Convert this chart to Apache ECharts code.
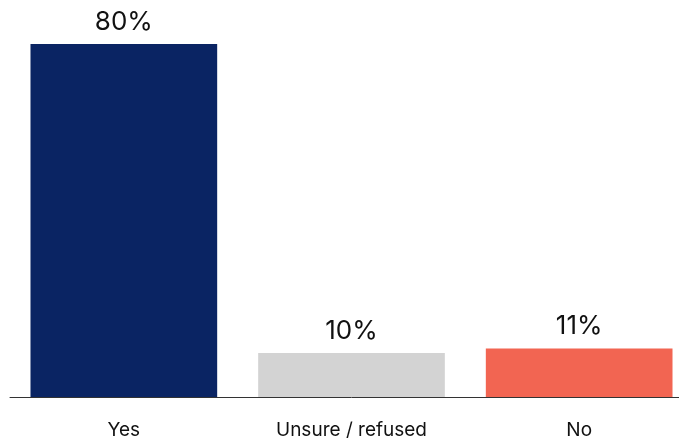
<!DOCTYPE html>
<html>
<head>
<meta charset="utf-8">
<script src="https://cdn.jsdelivr.net/npm/echarts@6/dist/echarts.min.js"></script>
<style>html,body{margin:0;padding:0;background:#fff;overflow:hidden;width:679px;height:440px;}#c{width:693px;height:440px;}</style>
</head>
<body>
<div id="c"></div>
<script>
const categories = ["Yes", "Unsure / refused", "No"];
const values = [80, 10, 11];
const colors = ["#0a2463", "#d3d3d3", "#f26552"];

const chart = echarts.init(document.getElementById('c'), null, {renderer: 'canvas'});
chart.setOption({
  animation: false,
  backgroundColor: '#ffffff',
  grid: {left: 10, top: 44, right: 0, bottom: 43, containLabel: false},
  xAxis: {
    type: 'category',
    data: categories,
    axisLine: {show: true, lineStyle: {color: '#333333', width: 1}},
    axisTick: {show: false},
    axisLabel: {color: '#111111', fontSize: 19, fontFamily: 'Inter, "Noto Sans", sans-serif', margin: 24}
  },
  yAxis: {
    type: 'value', min: 0, max: 80,
    show: false, splitLine: {show: false}
  },
  series: [{
    type: 'bar',
    barCategoryGap: '18%',
    data: values.map((v, i) => ({value: v, itemStyle: {color: colors[i]}})),
    label: {
      show: true, position: 'top', distance: 9,
      formatter: p => p.value + '%',
      color: '#111111', fontSize: 26, fontFamily: 'Inter, "Noto Sans", sans-serif'
    }
  }]
});
</script>
</body>
</html>
